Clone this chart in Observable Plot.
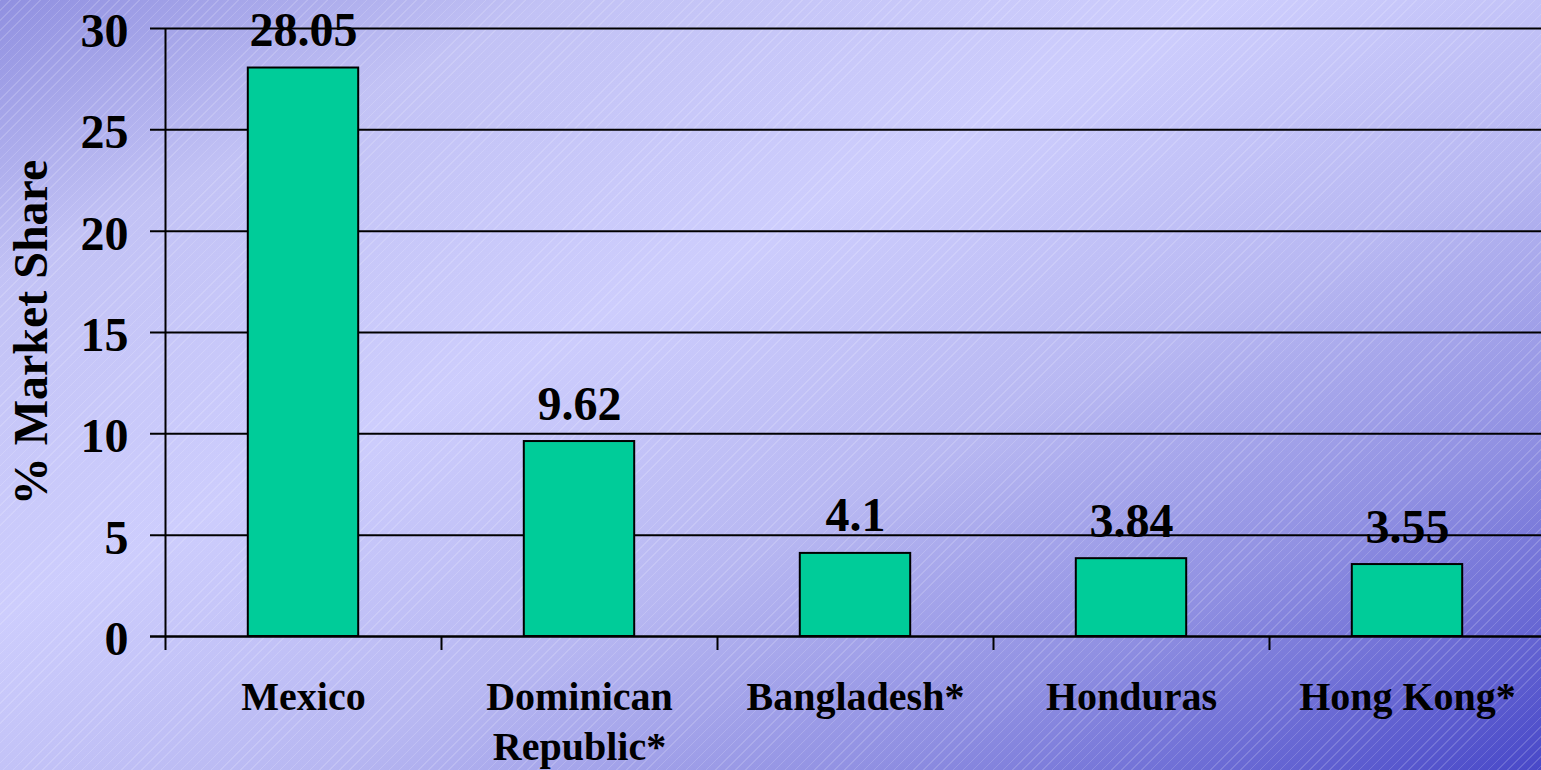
<!DOCTYPE html>
<html>
<head>
<meta charset="utf-8">
<script src="https://cdn.jsdelivr.net/npm/d3@7"></script>
<script src="https://cdn.jsdelivr.net/npm/@observablehq/plot@0.6"></script>
<style>
  html, body { margin: 0; padding: 0; overflow: hidden; }
  #chart {
    width: 1541px; height: 770px; position: relative;
    background:
      repeating-linear-gradient(135deg, rgba(255,255,255,0.16) 0px, rgba(255,255,255,0.16) 1px, rgba(255,255,255,0) 1px, rgba(255,255,255,0) 7px),
      linear-gradient(to bottom right, #9090e0 0%, #c2c2f5 18%, #cdcdfd 40%, #b8b8f2 60%, #9090e2 78%, #4848c8 100%);
  }
  #chart svg { background: transparent; }
</style>
</head>
<body>
<div id="chart"></div>
<script>
const categories = ["Mexico", "Dominican\nRepublic*", "Bangladesh*", "Honduras", "Hong Kong*"];
const shares = [28.05, 9.62, 4.1, 3.84, 3.55];
const valueLabels = ["28.05", "9.62", "4.1", "3.84", "3.55"];
const yTicks = [0, 5, 10, 15, 20, 25, 30];
const xBoundaries = [-0.5, 0.5, 1.5, 2.5, 3.5, 4.5];
const yTitle = "% Market Share";

const data = categories.map((c, i) => ({i, category: c, share: shares[i], label: valueLabels[i]}));
const font = "'Liberation Serif', 'Times New Roman', serif";

const chart = Plot.plot({
  width: 1541,
  height: 770,
  marginLeft: 150,
  marginRight: 0,
  marginTop: 28,
  marginBottom: 134,
  style: {background: "transparent", fontFamily: font, color: "black", overflow: "visible"},
  x: {type: "linear", domain: [-0.5, 4.5], range: [165, 1545], axis: null},
  y: {domain: [0, 30], axis: null},
  marks: [
    Plot.ruleY(yTicks, {stroke: "black", strokeWidth: 2}),
    Plot.rectY(data, {x1: d => d.i - 0.2, x2: d => d.i + 0.2, y: "share", fill: "#00CC99", stroke: "black", strokeWidth: 2}),
    Plot.ruleY([0], {stroke: "black", strokeWidth: 2}),
    Plot.ruleX([-0.5], {y1: 0, y2: 30, stroke: "black", strokeWidth: 2}),
    Plot.axisX({ticks: xBoundaries, tickSize: 14, tickFormat: () => "", strokeWidth: 2, label: null}),
    Plot.axisY({ticks: yTicks, tickSize: 0, tickPadding: 22, fontSize: 48, fontWeight: "bold", label: null, dy: 3}),
    Plot.text(data, {x: "i", y: "share", text: "label", lineAnchor: "bottom", dy: -22, fontSize: 48, fontWeight: "bold", fill: "black"}),
    Plot.text(data, {x: "i", text: "category", frameAnchor: "bottom", lineAnchor: "top", dy: 38, fontSize: 40, fontWeight: "bold", lineHeight: 1.25, fill: "black"}),
    Plot.text([yTitle], {frameAnchor: "left", textAnchor: "middle", dx: -119, rotate: -90, fontSize: 48, fontWeight: "bold", fill: "black"})
  ]
});
document.getElementById("chart").appendChild(chart);
</script>
</body>
</html>
